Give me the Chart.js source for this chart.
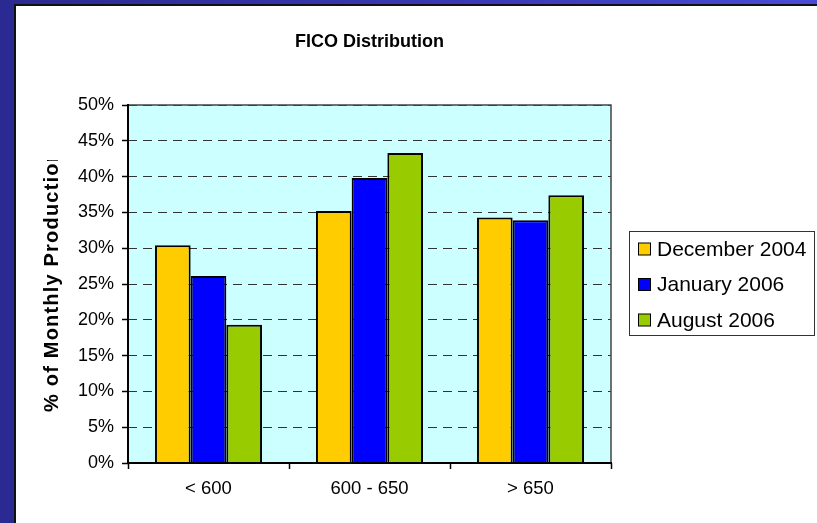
<!DOCTYPE html>
<html>
<head>
<meta charset="utf-8">
<script src="https://cdn.jsdelivr.net/npm/chart.js@4/dist/chart.umd.min.js"></script>
<style>
  html, body { margin: 0; padding: 0; }
  body { width: 817px; height: 523px; background: #2B2A92; position: relative; overflow: hidden; }
  #topband { position: absolute; left: 0; top: 0; width: 817px; height: 4px;
             background: linear-gradient(to right, #2B2A90, #3A3AB8 60%, #4B4BD4); }
  #panel { position: absolute; left: 14px; top: 4px; right: 0; bottom: 0;
           background: #fff; border-left: 2px solid #111; border-top: 2px solid #111; }
  canvas { display: block; }
</style>
</head>
<body>
<div id="topband"></div>
<div id="panel"><canvas id="c" width="801" height="517" style="width:801px;height:517px"></canvas></div>
<script>
// FICO score bands and the share of monthly production in each
const categories = ['< 600', '600 - 650', '> 650'];
const seriesNames = ['December 2004', 'January 2006', 'August 2006'];
const dec2004 = [30.4, 35.2, 34.3];
const jan2006 = [26.1, 39.8, 33.9];
const aug2006 = [19.3, 43.3, 37.4];
const yTicks = [0, 5, 10, 15, 20, 25, 30, 35, 40, 45, 50];
const seriesColors = ['#FFCC00', '#0000FF', '#99CC00'];

const FONT = "'Liberation Sans', Arial, sans-serif";

// light cyan plot background
const plotBackground = {
  id: 'plotBackground',
  beforeDraw(chart) {
    const { ctx, chartArea: a } = chart;
    ctx.save();
    ctx.fillStyle = '#CCFFFF';
    ctx.fillRect(a.left, a.top, a.right - a.left, a.bottom - a.top);
    ctx.restore();
  }
};

// frame around the plot area, drawn above the bars
const plotFrame = {
  id: 'plotFrame',
  afterDatasetsDraw(chart) {
    const { ctx, chartArea: a } = chart;
    ctx.save();
    ctx.strokeStyle = '#444';
    ctx.lineWidth = 1.5;
    ctx.beginPath();
    ctx.moveTo(a.left, a.top);
    ctx.lineTo(a.right, a.top);
    ctx.lineTo(a.right, a.bottom);
    ctx.stroke();
    ctx.strokeStyle = '#000';
    ctx.lineWidth = 2;
    ctx.beginPath();
    ctx.moveTo(a.left, a.top - 1);
    ctx.lineTo(a.left, a.bottom);
    ctx.lineTo(a.right + 1, a.bottom);
    ctx.stroke();
    ctx.restore();
  }
};

// rotated value-axis caption, cut off at the top
const yCaption = {
  id: 'yCaption',
  afterDraw(chart) {
    const { ctx } = chart;
    ctx.save();
    ctx.beginPath();
    ctx.rect(0, 154, 110, 363);
    ctx.clip();
    ctx.translate(41.5, 406);
    ctx.rotate(-Math.PI / 2);
    ctx.font = 'bold 20px ' + FONT;
    ctx.letterSpacing = '1.2px';
    ctx.fillStyle = '#000';
    ctx.textAlign = 'left';
    ctx.textBaseline = 'alphabetic';
    ctx.fillText('% of Monthly Production', 0, 0);
    ctx.restore();
  }
};

// boxed legend to the right of the plot
const boxLegend = {
  id: 'boxLegend',
  afterDraw(chart) {
    const { ctx } = chart;
    const x0 = 613.5, y0 = 225.5, w = 185, h = 104;
    ctx.save();
    ctx.fillStyle = '#fff';
    ctx.fillRect(x0, y0, w, h);
    ctx.strokeStyle = '#333';
    ctx.lineWidth = 1;
    ctx.strokeRect(x0, y0, w, h);
    ctx.font = '21px ' + FONT;
    ctx.textBaseline = 'middle';
    ctx.textAlign = 'left';
    chart.data.datasets.forEach((ds, i) => {
      const cy = 243 + i * 35.5;
      ctx.fillStyle = ds.backgroundColor;
      ctx.fillRect(622.5, cy - 6, 12, 12);
      ctx.strokeStyle = '#000';
      ctx.strokeRect(622.5, cy - 6, 12, 12);
      ctx.fillStyle = '#000';
      ctx.fillText(ds.label, 641, cy + 1);
    });
    ctx.restore();
  }
};

const values = [dec2004, jan2006, aug2006];

new Chart(document.getElementById('c'), {
  type: 'bar',
  data: {
    labels: categories,
    datasets: seriesNames.map((name, i) => ({
      label: name,
      data: values[i],
      backgroundColor: seriesColors[i],
      borderColor: '#000',
      borderWidth: 2,
      categoryPercentage: 0.665,
      barPercentage: 1.0
    }))
  },
  options: {
    responsive: false,
    animation: false,
    layout: { padding: { left: 0, right: 206, top: 0, bottom: 0 } },
    plugins: {
      legend: { display: false },
      tooltip: { enabled: false },
      title: {
        display: true,
        text: 'FICO Distribution',
        fullSize: false,
        color: '#000',
        font: { family: FONT, size: 18, weight: 'bold', lineHeight: 1.2 },
        padding: { top: 25.2, bottom: 52.2 }
      }
    },
    scales: {
      x: {
        grid: {
          offset: true,
          drawOnChartArea: false,
          drawTicks: true,
          tickLength: 6,
          tickColor: '#000',
          tickWidth: 1.5
        },
        border: { display: false },
        ticks: { color: '#000', font: { family: FONT, size: 18.5 }, padding: 9 },
        afterFit(scale) { scale.height = 60; }
      },
      y: {
        min: 0,
        max: 50,
        afterBuildTicks(scale) { scale.ticks = yTicks.map(v => ({ value: v })); },
        grid: {
          color: '#333',
          lineWidth: 1,
          tickLength: 6,
          tickColor: '#000',
          tickWidth: 1.5,
          tickBorderDash: []
        },
        border: { display: false, dash: [9, 6] },
        ticks: {
          color: '#000',
          font: { family: FONT, size: 18 },
          padding: 8,
          callback: v => v + '%'
        },
        afterFit(scale) { scale.width = 112; }
      }
    }
  },
  plugins: [plotBackground, plotFrame, yCaption, boxLegend]
});
</script>
</body>
</html>
